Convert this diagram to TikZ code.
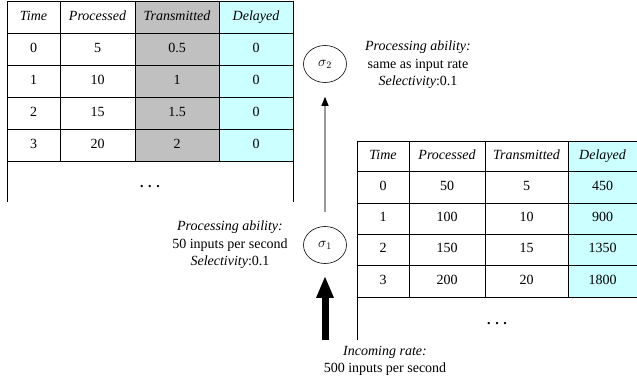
\documentclass[tikz,border=0pt]{standalone}
\usepackage{fontspec}
\setmainfont{Liberation Serif}
\usetikzlibrary{arrows.meta,shapes.geometric}
\definecolor{cellgray}{RGB}{192,192,192}
\definecolor{cellcyan}{RGB}{204,255,255}
\begin{document}
\begin{tikzpicture}[x=1pt,y=-1pt, font=\fontsize{14}{17.5}\selectfont,
 grid/.style={line width=0.7pt, black},
 cell/.style={inner sep=0pt, anchor=center, text height=9.5pt, text depth=3pt},
 op/.style={draw, ellipse, line width=0.6pt, minimum width=43pt, minimum height=37pt, inner sep=0pt},
 note/.style={align=center, inner sep=0pt}]
\useasboundingbox (0,0) rectangle (637,383);
% ---------- left table ----------
\fill[cellgray] (135,1) rectangle (219,161);
\fill[cellcyan] (219,1) rectangle (293,161);
\draw[grid] (7,202) -- (7,1) -- (293,1) -- (293,202);
\foreach \y in {33,65,97,129,161} \draw[grid] (7,\y) -- (293,\y);
\foreach \x in {60,135,219} \draw[grid] (\x,1) -- (\x,161);
\foreach \txt [count=\c] in {Time,Processed,Transmitted,Delayed}{
  \pgfmathsetmacro{\cx}{{33.5,97.5,177,256}[\c-1]}
  \node[cell] (L-0-\c) at (\cx,17) {\itshape\txt};
}
\foreach \r/\cy/\a/\b/\d/\e in {1/49/0/5/0.5/0, 2/81/1/10/1/0, 3/113/2/15/1.5/0, 4/145/3/20/2/0}{
  \node[cell] (L-\r-1) at (33.5,\cy) {\a};
  \node[cell] (L-\r-2) at (97.5,\cy) {\b};
  \node[cell] (L-\r-3) at (177,\cy) {\d};
  \node[cell] (L-\r-4) at (256,\cy) {\e};
}
\node[cell] (Ldots) at (150,184) {\textbf{.\,\,.\,\,.}};
% ---------- right table ----------
\fill[cellcyan] (568,141) rectangle (637,297);
\draw[grid] (357,340) -- (357,141) -- (637,141);
\foreach \y in {171,203,234,265,297} \draw[grid] (357,\y) -- (637,\y);
\foreach \x in {409,485,568} \draw[grid] (\x,141) -- (\x,297);
\foreach \txt [count=\c] in {Time,Processed,Transmitted,Delayed}{
  \pgfmathsetmacro{\cx}{{383,447,526.5,602.5}[\c-1]}
  \node[cell] (R-0-\c) at (\cx,156) {\itshape\txt};
}
\foreach \r/\cy/\a/\b/\d/\e in {1/187/0/50/5/450, 2/218.5/1/100/10/900, 3/249.5/2/150/15/1350, 4/281/3/200/20/1800}{
  \node[cell] (R-\r-1) at (383,\cy) {\a};
  \node[cell] (R-\r-2) at (447,\cy) {\b};
  \node[cell] (R-\r-3) at (526.5,\cy) {\d};
  \node[cell] (R-\r-4) at (602.5,\cy) {\e};
}
\node[cell] (Rdots) at (497,321) {\textbf{.\,\,.\,\,.}};
% ---------- operators ----------
\node[op] (s2) at (325,64) {$\sigma_2$};
\node[op] (s1) at (325,245) {$\sigma_1$};
\draw[line width=1.2pt, gray!80, -{Triangle[width=7pt,length=9pt,color=black]}, shorten <=14pt, shorten >=14pt] (s1) -- (s2);
\coordinate (in) at (325,340);
\draw[line width=7pt, -{Triangle[width=16pt,length=22pt]}, shorten >=12pt] (in) -- (s1);
% ---------- notes ----------
\node[note] (n2) at (418,65) {\textit{Processing ability:}\\same as input rate\\\textit{Selectivity}:0.1};
\node[note] (n1) at (230,245) {\textit{Processing ability:}\\50 inputs per second\\\textit{Selectivity}:0.1};
\node[note] (n0) at (385,361) {\textit{Incoming rate:}\\500 inputs per second};
\end{tikzpicture}
\end{document}
